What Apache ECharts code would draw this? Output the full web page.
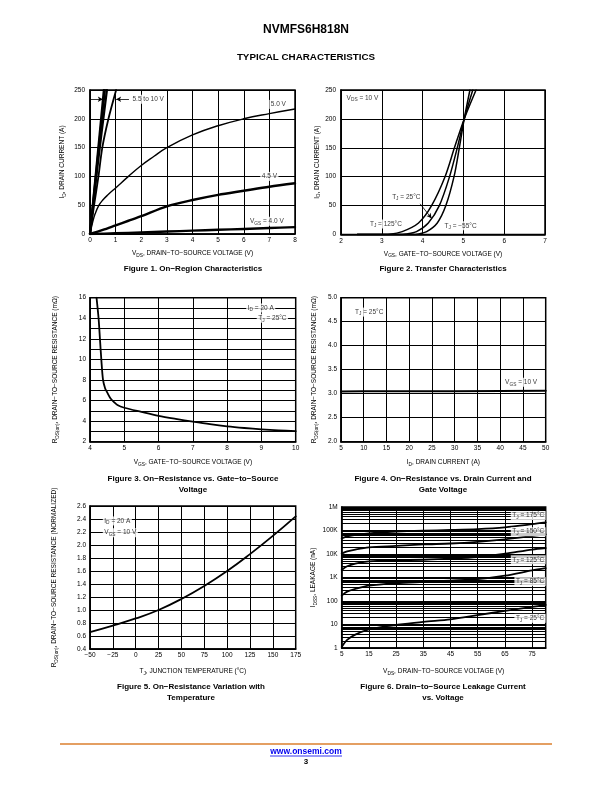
<!DOCTYPE html>
<html><head><meta charset="utf-8">
<script src="https://cdn.jsdelivr.net/npm/echarts@6.0.0/dist/echarts.min.js"></script>
<style>html,body{margin:0;padding:0;background:#fff}#c{width:612px;height:792px}</style>
</head><body><div id="c"></div>
<script>
// ---------- DATA ----------
// Figure 1: ID vs VDS for several VGS
const fig1_vgs10 = [[0,0],[0.25,115],[0.54,250]];
const fig1_vgs8  = [[0,0],[0.27,118],[0.58,250]];
const fig1_vgs6  = [[0,0],[0.3,120],[0.66,250]];
const fig1_vgs55 = [[0,0],[0.16,50],[0.33,100],[0.48,150],[0.72,200],[1.02,250]];
const fig1_vgs50 = [[0,0],[0.1,20],[0.2,35],[0.35,50],[0.5,59],[0.7,68],[1,80],[1.5,100],[2,119],[2.5,135],[3,150],[4,172],[5,188],[6,200],[7,209],[8,217]];
const fig1_vgs45 = [[0,0],[0.5,7],[1,15],[1.5,23],[2,31],[3,48],[4,59],[5,68],[6,75],[7,82],[8,88]];
const fig1_vgs40 = [[0,0],[1,1.2],[2,2.8],[3,4.3],[4,5.8],[5,7.3],[6,8.8],[7,10.3],[8,12]];
// Figure 2: ID vs VGS for TJ
const fig2_tj125 = [[2.4,0],[2.9,0],[3.2,0.6],[3.5,5],[3.9,20],[4.22,50],[4.55,100],[4.78,150],[5.02,200],[5.31,250]];
const fig2_tj25  = [[2.4,0],[3.4,0],[3.6,1],[3.85,5],[4.14,20],[4.41,50],[4.66,100],[4.85,150],[5.02,200],[5.23,250]];
const fig2_tjm55 = [[2.4,0],[3.75,0],[3.9,1],[4.1,5],[4.36,20],[4.57,50],[4.77,100],[4.9,150],[5.02,200],[5.16,250]];
// Figure 3: RDS(on) vs VGS
const fig3_rds = [[4.19,16],[4.25,14],[4.29,12],[4.33,10],[4.38,8],[4.44,7.2],[4.5,6.8],[4.6,6.2],[4.7,5.85],[4.8,5.56],[5,5.3],[5.5,4.9],[6,4.52],[6.5,4.22],[7,3.95],[7.5,3.7],[8,3.49],[8.5,3.33],[9,3.2],[9.5,3.1],[10,3.03]];
// Figure 4: RDS(on) vs ID
const fig4_rds = [[5,3.045],[10,3.05],[20,3.05],[30,3.052],[40,3.055],[50,3.06]];
// Figure 5: normalized RDS(on) vs TJ
const fig5_rds = [[-50,0.66],[-25,0.76],[0,0.87],[25,1.0],[50,1.17],[75,1.37],[100,1.6],[125,1.86],[150,2.14],[175,2.44]];
// Figure 6: IDSS vs VDS
const fig6_tj175 = [[5,46000],[7,56000],[10,64000],[15,76000],[25,89000],[35,98000],[45,105000],[55,115000],[65,137000],[75,185000],[80,220000]];
const fig6_tj150 = [[5,10400],[7,13000],[10,15500],[15,19000],[25,22000],[35,25500],[45,28000],[55,33000],[65,42000],[75,58000],[80,68000]];
const fig6_tj125 = [[5,2100],[7,3000],[10,3900],[15,4900],[25,5400],[35,5700],[45,6300],[55,7400],[65,10400],[75,15500],[80,18000]];
const fig6_tj85  = [[5,170],[7,250],[10,325],[15,450],[25,570],[35,650],[45,740],[55,850],[65,1200],[75,2000],[80,2500]];
const fig6_tj25  = [[5,1.1],[7,2.2],[10,3.7],[15,6.2],[20,8],[25,9.5],[35,13],[45,16.6],[55,25],[65,38],[75,56],[80,68]];
const fig6_yTickLabels = ['1','10','100','1K','10K','100K','1M'];

// annotations: [x, y, text, align]
const ann1 = [[1.6,234,'5.5 to 10 V','left'],[7.35,225,'5.0 V'],[7.0,100,'4.5 V'],[6.9,22,'V{s|GS} = 4.0 V']];
const ann2 = [[2.1,236,'V{s|DS} = 10 V','left'],[3.6,65,'T{s|J} = 25°C'],[3.1,18,'T{s|J} = 125°C'],[4.93,15,'T{s|J} = −55°C']];
const ann3 = [[8.98,15,'I{s|D} = 20 A'],[9.32,14,'T{s|J} = 25°C']];
const ann4 = [[11.2,4.7,'T{s|J} = 25°C'],[44.6,3.24,'V{s|GS} = 10 V']];
const ann5 = [[-36,2.37,'I{s|D} = 20 A','left'],[-36,2.19,'V{s|GS} = 10 V','left']];
const ann6 = [[80,4.4e5,'T{s|J} = 175°C','right'],[80,8.9e4,'T{s|J} = 150°C','right'],[80,5700,'T{s|J} = 125°C','right'],[80,670,'T{s|J} = 85°C','right'],[80,18.3,'T{s|J} = 25°C','right']];

// ---------- STYLE ----------
const FONT = '"Liberation Sans", Arial, Helvetica, sans-serif';
const FS = 6.5;
const RICH = { s: { fontSize: 4.8, verticalAlign: 'bottom', lineHeight: 9, fontFamily: FONT, color: '#000' } };
const minus = v => String(v).replace('-', '−');

function nameStyle() { return { fontSize: FS, fontFamily: FONT, color: '#000', lineHeight: 9, rich: RICH }; }
function axis(gi, o) {
  const a = {
    type: 'value', gridIndex: gi, min: o.min, max: o.max, interval: o.interval,
    name: o.name, nameLocation: 'middle', nameGap: o.gap, nameRotate: o.rotate || 0,
    nameTextStyle: nameStyle(),
    axisLine: { show: true, onZero: false, lineStyle: { color: '#000', width: 1.5 } },
    axisTick: { show: false },
    splitLine: { show: true, lineStyle: { color: '#000', width: 1 } },
    axisLabel: { color: '#000', fontSize: FS, fontFamily: FONT, margin: o.margin || 3, formatter: o.fmt || minus, showMaxLabel: o.showMax !== false },
  };
  if (o.type) a.type = o.type;
  if (o.minor) { a.minorTick = { show: false, splitNumber: o.minor }; a.minorSplitLine = { show: true, lineStyle: { color: '#000', width: 1 } }; }
  if (o.type === 'log') { delete a.interval; a.logBase = 10; }
  return a;
}
function line(xi, data, w, extra) {
  return Object.assign({ type: 'line', xAxisIndex: xi, yAxisIndex: xi, data: data, symbol: 'none', showSymbol: false,
    smooth: 0.3, lineStyle: { color: '#000', width: w, cap: 'round', join: 'round' }, silent: true, z: 3 }, extra || {});
}
function annot(xi, items) {
  return { type: 'scatter', xAxisIndex: xi, yAxisIndex: xi, symbolSize: 1, itemStyle: { color: 'rgba(0,0,0,0)' }, silent: true, z: 10,
    data: items.map(a => ({ value: [a[0], a[1]], label: { formatter: a[2], align: a[3] || 'center' } })),
    label: { show: true, position: 'inside', color: '#000', fontSize: FS, fontFamily: FONT, lineHeight: 9, backgroundColor: '#fff', padding: [0, 1.5], rich: RICH } };
}
const arrowLine = (pairs) => ({ silent: true, symbol: ['none', 'arrow'], symbolSize: [4, 5], label: { show: false },
  lineStyle: { color: '#000', width: 0.8, type: 'solid' }, data: pairs.map(p => [{ coord: p[0] }, { coord: p[1] }]) });

const fig6_minor = [];
for (let k = 0; k < 6; k++) for (let m = 2; m <= 9; m++) fig6_minor.push(m * Math.pow(10, k));

const grids = [
  { left: 90, top: 90, width: 205, height: 144 },
  { left: 341, top: 90, width: 204, height: 144.5 },
  { left: 90, top: 297.7, width: 205.7, height: 144 },
  { left: 341, top: 297.7, width: 204.7, height: 144 },
  { left: 90, top: 506, width: 205.7, height: 143 },
  { left: 341.7, top: 507, width: 204, height: 141 },
].map(g => Object.assign({ show: true, borderColor: '#000', borderWidth: 1.5, backgroundColor: 'transparent', containLabel: false }, g));

const xAxes = [
  axis(0, { min: 0, max: 8, interval: 1, name: 'V{s|DS}, DRAIN−TO−SOURCE VOLTAGE (V)', gap: 15 }),
  axis(1, { min: 2, max: 7, interval: 1, name: 'V{s|GS}, GATE−TO−SOURCE VOLTAGE (V)', gap: 15 }),
  axis(2, { min: 4, max: 10, interval: 1, name: 'V{s|GS}, GATE−TO−SOURCE VOLTAGE (V)', gap: 16 }),
  axis(3, { min: 5, max: 50, interval: 5, name: 'I{s|D}, DRAIN CURRENT (A)', gap: 16 }),
  axis(4, { min: -50, max: 175, interval: 25, name: 'T{s|J}, JUNCTION TEMPERATURE (°C)', gap: 18 }),
  axis(5, { min: 5, max: 80, interval: 10, name: 'V{s|DS}, DRAIN−TO−SOURCE VOLTAGE (V)', gap: 19, showMax: false }),
];
const yAxes = [
  axis(0, { min: 0, max: 250, interval: 50, name: 'I{s|D}, DRAIN CURRENT (A)', gap: 23, rotate: 90, margin: 5 }),
  axis(1, { min: 0, max: 250, interval: 50, name: 'I{s|D}, DRAIN CURRENT (A)', gap: 19, rotate: 90, margin: 5 }),
  axis(2, { min: 2, max: 16, interval: 2, minor: 2, name: 'R{s|DS(on)}, DRAIN−TO−SOURCE RESISTANCE (mΩ)', gap: 30, rotate: 90, margin: 4 }),
  axis(3, { min: 2, max: 5, interval: 0.5, name: 'R{s|DS(on)}, DRAIN−TO−SOURCE RESISTANCE (mΩ)', gap: 22, rotate: 90, margin: 4, fmt: v => v.toFixed(1) }),
  axis(4, { min: 0.4, max: 2.6, interval: 0.2, name: 'R{s|DS(on)}, DRAIN−TO−SOURCE RESISTANCE (NORMALIZED)', gap: 31, rotate: 90, margin: 4, fmt: v => v.toFixed(1) }),
  axis(5, { type: 'log', min: 1, max: 1e6, name: 'I{s|DSS}, LEAKAGE (nA)', gap: 24, rotate: 90, margin: 4,
    fmt: v => fig6_yTickLabels[Math.round(Math.log10(v))] }),
];

const series = [
  line(0, fig1_vgs10, 2.2), line(0, fig1_vgs8, 2.2), line(0, fig1_vgs6, 2.2), line(0, fig1_vgs55, 1.8),
  line(0, fig1_vgs50, 1.4, { smooth: 0.45 }), line(0, fig1_vgs45, 2.4), line(0, fig1_vgs40, 2.4, { markLine: arrowLine([[[0, 234], [0.5, 234]], [[1.52, 234], [1.02, 234]]]) }),
  line(1, fig2_tj125, 1.5), line(1, fig2_tj25, 1.5), line(1, fig2_tjm55, 1.5, { markLine: arrowLine([[[3.94, 53], [4.22, 28]]]) }),
  line(2, fig3_rds, 1.8),
  line(3, fig4_rds, 2.0, { smooth: false }),
  line(4, fig5_rds, 1.8, { smooth: 0.45 }),
  line(5, fig6_tj175, 1.8), line(5, fig6_tj150, 1.8), line(5, fig6_tj125, 1.8), line(5, fig6_tj85, 1.8),
  line(5, fig6_tj25, 1.8, { markLine: { silent: true, symbol: 'none', label: { show: false }, lineStyle: { color: '#000', width: 1, type: 'solid' }, data: fig6_minor.map(v => ({ yAxis: v })) } }),
  annot(0, ann1), annot(1, ann2), annot(2, ann3), annot(3, ann4), annot(4, ann5), annot(5, ann6),
];

const capFont = 'bold 8px ' + FONT;
const captions = [
  [193, 269, 'Figure 1. On−Region Characteristics'],
  [443, 269, 'Figure 2. Transfer Characteristics'],
  [193, 484.5, 'Figure 3. On−Resistance vs. Gate−to−Source\nVoltage'],
  [443, 484.5, 'Figure 4. On−Resistance vs. Drain Current and\nGate Voltage'],
  [191, 692.5, 'Figure 5. On−Resistance Variation with\nTemperature'],
  [443, 692.5, 'Figure 6. Drain−to−Source Leakage Current\nvs. Voltage'],
];
const graphic = [
  { type: 'text', x: 306, y: 30, style: { text: 'NVMFS6H818N', font: 'bold 12px ' + FONT, fill: '#000', align: 'center', verticalAlign: 'middle' } },
  { type: 'text', x: 306, y: 57, style: { text: 'TYPICAL CHARACTERISTICS', font: 'bold 9.8px ' + FONT, fill: '#000', align: 'center', verticalAlign: 'middle' } },
  { type: 'line', shape: { x1: 60, y1: 744, x2: 552, y2: 744 }, style: { stroke: '#DB7F2E', lineWidth: 1.5 } },
  { type: 'text', x: 306, y: 751.5, style: { text: 'www.onsemi.com', font: 'bold 8.5px ' + FONT, fill: '#0000EE', align: 'center', verticalAlign: 'middle' } },
  { type: 'line', shape: { x1: 270, y1: 756, x2: 342, y2: 756 }, style: { stroke: '#0000EE', lineWidth: 0.8 } },
  { type: 'text', x: 306, y: 762, style: { text: '3', font: 'bold 8px ' + FONT, fill: '#000', align: 'center', verticalAlign: 'middle' } },
].concat(captions.map(c => ({ type: 'text', x: c[0], y: c[1], style: { text: c[2], font: capFont, lineHeight: 11, fill: '#000', align: 'center', verticalAlign: 'middle' } })));

const chart = echarts.init(document.getElementById('c'), null, { renderer: 'canvas' });
chart.setOption({ animation: false, backgroundColor: '#fff', grid: grids, xAxis: xAxes, yAxis: yAxes, series: series, graphic: graphic });
</script></body></html>
